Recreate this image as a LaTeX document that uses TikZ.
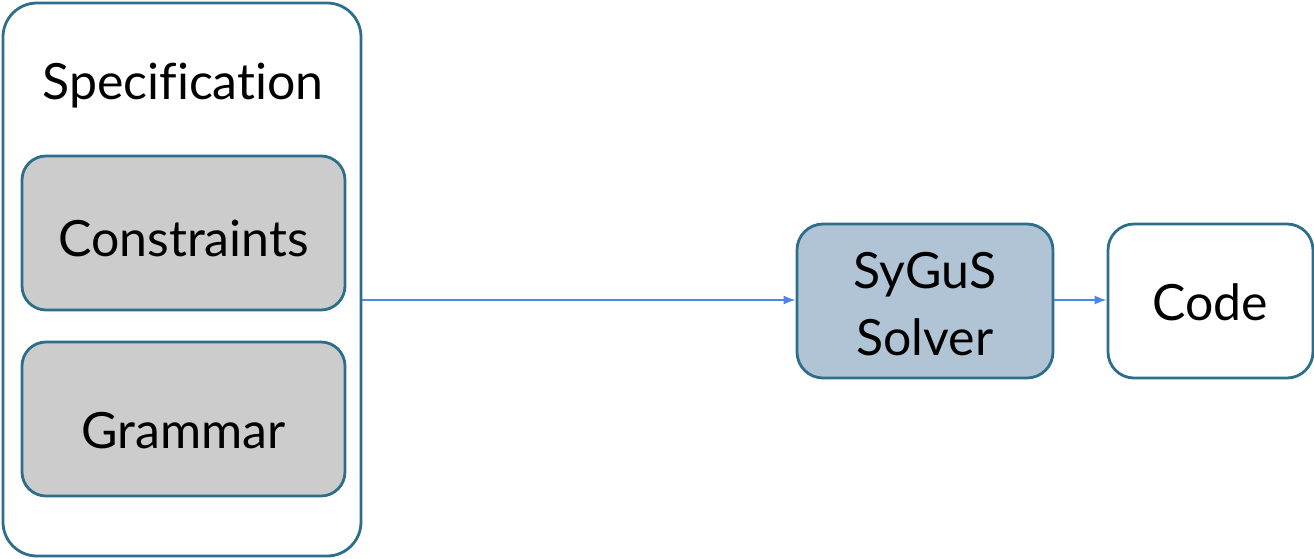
\documentclass[tikz,border=0pt]{standalone}
\usepackage{fontspec}
\setmainfont{Lato}[Ligatures=NoCommon]
\usetikzlibrary{arrows.meta}
\definecolor{edge}{HTML}{2D6F8A}
\definecolor{graybox}{HTML}{CCCCCC}
\definecolor{solverfill}{HTML}{B0C4D6}
\definecolor{arrowblue}{HTML}{4A86E8}
\tikzset{
  box/.style={draw=edge, line width=2.8pt, rectangle, inner sep=0pt},
  lbl/.style={font=\fontsize{50}{67}\selectfont, inner sep=0pt, anchor=base, align=center},
  flow/.style={draw=arrowblue, line width=1.6pt, -{Latex[length=12pt,width=9pt]}}
}
\begin{document}
\begin{tikzpicture}[x=1pt,y=-1pt]
\useasboundingbox (0,0) rectangle (1314,558);
% outer specification box
\node[box, fill=white, rounded corners=34pt, minimum width=358pt, minimum height=553pt] (spec) at (182,279.5) {};
\node[lbl] (spectext) at (183,99) {Specification};
\node[box, fill=graybox, rounded corners=24pt, minimum width=323pt, minimum height=154pt] (cons) at (183.5,233) {};
\node[lbl] (constext) at (183.5,256) {Constraints};
\node[box, fill=graybox, rounded corners=24pt, minimum width=323pt, minimum height=154pt] (gram) at (183.5,419) {};
\node[lbl] (gramtext) at (183.5,448) {Grammar};
% solver
\node[box, fill=solverfill, rounded corners=26pt, minimum width=256pt, minimum height=154pt] (solver) at (925,301) {};
\node[lbl] (solvertext) at (925,355) {SyGuS\\Solver};
% code
\node[box, fill=white, rounded corners=26pt, minimum width=205pt, minimum height=154pt] (code) at (1210.5,301) {};
\node[lbl] (codetext) at (1210.5,320) {Code};
% arrows
\draw[flow] (spec.east |- 0,300) -- (solver.west |- 0,300);
\draw[flow] (solver.east |- 0,300) -- (code.west |- 0,300);
\end{tikzpicture}
\end{document}
